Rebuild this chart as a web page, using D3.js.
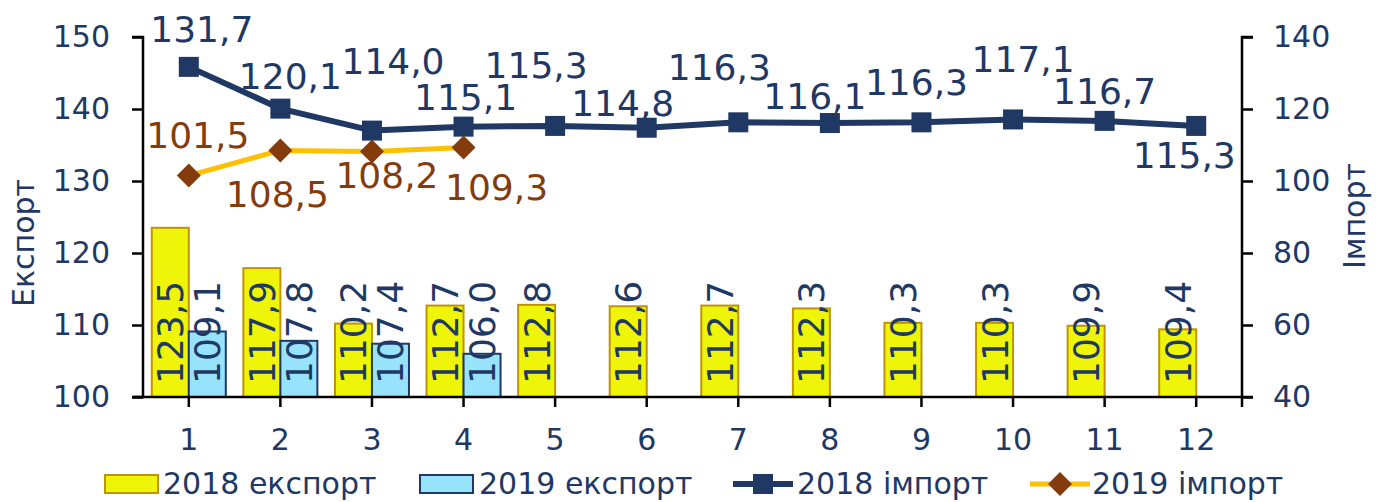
<!DOCTYPE html>
<html>
<head>
<meta charset="utf-8">
<script src="https://cdn.jsdelivr.net/npm/d3@7"></script>
<style>
  body { margin: 0; background: #fff; }
  svg { display: block; font-family: "DejaVu Sans", Verdana, sans-serif; }
</style>
</head>
<body>
<div id="chart"></div>
<script>
const months = ["1", "2", "3", "4", "5", "6", "7", "8", "9", "10", "11", "12"];
const export2018 = [123.5, 117.9, 110.2, 112.7, 112.8, 112.6, 112.7, 112.3, 110.3, 110.3, 109.9, 109.4];
const export2019 = [109.1, 107.8, 107.4, 106.0];
const import2018 = [131.7, 120.1, 114.0, 115.1, 115.3, 114.8, 116.3, 116.1, 116.3, 117.1, 116.7, 115.3];
const import2019 = [101.5, 108.5, 108.2, 109.3];
const leftTicks = [100, 110, 120, 130, 140, 150];
const rightTicks = [40, 60, 80, 100, 120, 140];

// label nudges (dx, dy from marker centre)
const lab2018 = [[13, -25], [10, -20], [21, -57], [2, -17], [-19, -48], [-24, -12], [-19, -42], [-15, -14], [-5, -27], [10, -47], [0, -17], [-12, 42]];
const lab2019 = [[9, -28], [-3, 57], [15, 37], [33, 52]];

const W = 1383, H = 502;
const navy = "#1f3864", brown = "#843c0c";

const svg = d3.select("#chart").append("svg").attr("width", W).attr("height", H);

const x = d3.scaleBand().domain(months).range([143, 1242]);
const half = 37;
const xSub = d3.scaleBand().domain(["2018", "2019"])
  .range([x.bandwidth() / 2 - half, x.bandwidth() / 2 + half]);
const yL = d3.scaleLinear().domain([100, 150]).range([397, 37]);
const yR = d3.scaleLinear().domain([40, 140]).range([397, 37]);
const cx = (i) => x(months[i]) + x.bandwidth() / 2;

// bars
const bars = [
  { key: "2018", vals: export2018, fill: "#eef508", stroke: "#c09400" },
  { key: "2019", vals: export2019, fill: "#97e3fb", stroke: navy }
];
bars.forEach((s) => {
  svg.append("g").selectAll("rect").data(s.vals).join("rect")
    .attr("x", (d, i) => x(months[i]) + xSub(s.key))
    .attr("y", (d) => yL(d))
    .attr("width", xSub.bandwidth())
    .attr("height", (d) => yL(100) - yL(d))
    .attr("fill", s.fill)
    .attr("stroke", s.stroke)
    .attr("stroke-width", 2);
});
bars.forEach((s) => {
  svg.append("g").selectAll("text").data(s.vals).join("text")
    .attr("transform", (d, i) => {
      const px = x(months[i]) + xSub(s.key) + xSub.bandwidth() / 2;
      return `translate(${px},${yL(100) - 13}) rotate(-90)`;
    })
    .attr("dy", "0.36em")
    .attr("font-size", 36)
    .attr("fill", navy)
    .text((d) => d.toFixed(1).replace(".", ","));
});

// axes
const axL = svg.append("g").attr("transform", "translate(143,0)")
  .call(d3.axisLeft(yL).tickValues(leftTicks).tickSize(11).tickPadding(22).tickFormat(d3.format("d")));
const axR = svg.append("g").attr("transform", "translate(1242,0)")
  .call(d3.axisRight(yR).tickValues(rightTicks).tickSize(11).tickPadding(20).tickFormat(d3.format("d")));
const axB = svg.append("g").attr("transform", "translate(0,397)")
  .call(d3.axisBottom(x).tickSize(10).tickPadding(22));
[axL, axR, axB].forEach((g) => {
  g.select(".domain").attr("stroke", "#000").attr("stroke-width", 2.5);
  g.selectAll(".tick line").attr("stroke", "#000").attr("stroke-width", 2.5);
  g.selectAll(".tick text").attr("font-size", 30).attr("fill", navy)
    .attr("font-family", "DejaVu Sans, Verdana, sans-serif");
});
axL.select(".domain").attr("d", "M-11,37H0V397H-11");
axR.select(".domain").attr("d", "M11,37H0V407");
axB.select(".domain").attr("d", "M133,0H1253");

svg.append("text")
  .attr("transform", "translate(34,243) rotate(-90)")
  .attr("text-anchor", "middle").attr("font-size", 30).attr("fill", navy)
  .text("Експорт");
svg.append("text")
  .attr("transform", "translate(1365,216) rotate(-90)")
  .attr("text-anchor", "middle").attr("font-size", 30).attr("fill", navy)
  .text("Імпорт");

// lines
const line = d3.line().x((d, i) => cx(i)).y((d) => yR(d));
svg.append("path").datum(import2018).attr("d", line)
  .attr("fill", "none").attr("stroke", navy).attr("stroke-width", 6);
svg.append("g").selectAll("rect").data(import2018).join("rect")
  .attr("x", (d, i) => cx(i) - 10).attr("y", (d) => yR(d) - 10)
  .attr("width", 20).attr("height", 20).attr("fill", navy);

svg.append("path").datum(import2019).attr("d", line)
  .attr("fill", "none").attr("stroke", "#ffc000").attr("stroke-width", 5);
const diamond = (px, py, r) => `M${px},${py - r}L${px + r},${py}L${px},${py + r}L${px - r},${py}Z`;
svg.append("g").selectAll("path").data(import2019).join("path")
  .attr("d", (d, i) => diamond(cx(i), yR(d), 12)).attr("fill", brown);

svg.append("g").selectAll("text").data(import2018).join("text")
  .attr("x", (d, i) => cx(i) + lab2018[i][0])
  .attr("y", (d, i) => yR(d) + lab2018[i][1])
  .attr("text-anchor", "middle").attr("font-size", 36).attr("fill", navy)
  .text((d) => d.toFixed(1).replace(".", ","));
svg.append("g").selectAll("text").data(import2019).join("text")
  .attr("x", (d, i) => cx(i) + lab2019[i][0])
  .attr("y", (d, i) => yR(d) + lab2019[i][1])
  .attr("text-anchor", "middle").attr("font-size", 36).attr("fill", brown)
  .text((d) => d.toFixed(1).replace(".", ","));

// legend
const leg = svg.append("g").attr("font-size", 30).attr("fill", navy);
leg.append("rect").attr("x", 105).attr("y", 475).attr("width", 53).attr("height", 18)
  .attr("fill", "#eef508").attr("stroke", "#c09400").attr("stroke-width", 2);
leg.append("text").attr("x", 163).attr("y", 494).text("2018 експорт");
leg.append("rect").attr("x", 420).attr("y", 475).attr("width", 53).attr("height", 18)
  .attr("fill", "#97e3fb").attr("stroke", navy).attr("stroke-width", 2);
leg.append("text").attr("x", 479).attr("y", 494).text("2019 експорт");
leg.append("line").attr("x1", 733).attr("x2", 793).attr("y1", 484).attr("y2", 484)
  .attr("stroke", navy).attr("stroke-width", 6);
leg.append("rect").attr("x", 753).attr("y", 474).attr("width", 20).attr("height", 20).attr("fill", navy);
leg.append("text").attr("x", 797).attr("y", 494).text("2018 імпорт");
leg.append("line").attr("x1", 1030).attr("x2", 1090).attr("y1", 484).attr("y2", 484)
  .attr("stroke", "#ffc000").attr("stroke-width", 5);
leg.append("path").attr("d", diamond(1060, 484, 12)).attr("fill", brown);
leg.append("text").attr("x", 1092).attr("y", 494).text("2019 імпорт");
</script>
</body>
</html>
